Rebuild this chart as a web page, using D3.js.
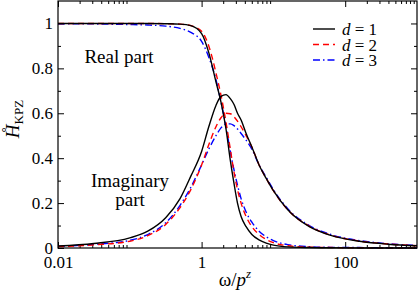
<!DOCTYPE html>
<html>
<head>
<meta charset="utf-8">
<script src="https://d3js.org/d3.v7.min.js"></script>
<style>
body { margin: 0; background: #fff; }
svg { display: block; }
svg text { font-family: "Liberation Serif", "Times New Roman", serif; fill: #000; }
.axis text { font-size: 17px; font-family: "Liberation Serif", "Times New Roman", serif; }
.axis path { display: none; }
.axis line { stroke: #000; stroke-width: 1; }
.curve { fill: none; stroke-width: 1.4; }
</style>
</head>
<body>
<div id="chart"></div>
<script>
var width = 419, height = 294;
var plotLeft = 58, plotRight = 417, plotTop = 1, plotBottom = 248;

// log10(omega / p^z) grid shared by all curves
var logW = [-2, -1.5, -1, -0.75, -0.5, -0.3, -0.15, 0, 0.1, 0.2, 0.27, 0.34, 0.4, 0.45, 0.5, 0.55, 0.62, 0.7, 0.8, 0.9, 1.0, 1.2, 1.5, 1.8, 2.2, 2.6, 3];

var realD1 = [1, 1, 1, 1, 0.999, 0.997, 0.99, 0.955, 0.87, 0.74, 0.65, 0.53, 0.39, 0.29, 0.2, 0.14, 0.095, 0.06, 0.036, 0.022, 0.013, 0.005, 0.002, 0.001, 0, 0, 0];
var realD2 = [1, 1, 1, 1, 0.999, 0.997, 0.99, 0.965, 0.9, 0.78, 0.68, 0.56, 0.44, 0.34, 0.26, 0.2, 0.14, 0.095, 0.06, 0.038, 0.024, 0.01, 0.004, 0.002, 0.001, 0, 0];
var realD3 = [0.999, 0.998, 0.995, 0.993, 0.988, 0.978, 0.96, 0.92, 0.85, 0.75, 0.65, 0.54, 0.43, 0.35, 0.28, 0.22, 0.16, 0.115, 0.075, 0.05, 0.033, 0.015, 0.006, 0.003, 0.002, 0.001, 0];

var imagD1 = [0.009, 0.02, 0.045, 0.075, 0.135, 0.22, 0.32, 0.43, 0.54, 0.635, 0.675, 0.683, 0.665, 0.64, 0.6, 0.57, 0.51, 0.45, 0.37, 0.31, 0.255, 0.17, 0.095, 0.056, 0.03, 0.017, 0.01];
var imagD2 = [0.006, 0.014, 0.03, 0.055, 0.105, 0.18, 0.26, 0.37, 0.46, 0.54, 0.58, 0.6, 0.598, 0.585, 0.565, 0.54, 0.5, 0.45, 0.37, 0.31, 0.255, 0.17, 0.097, 0.057, 0.031, 0.018, 0.01];
var imagD3 = [0.007, 0.016, 0.034, 0.06, 0.112, 0.19, 0.27, 0.37, 0.44, 0.5, 0.535, 0.552, 0.553, 0.545, 0.53, 0.51, 0.48, 0.44, 0.37, 0.315, 0.26, 0.175, 0.1, 0.06, 0.033, 0.019, 0.011];

var xMajor = [0.01, 1, 100];
var xMajorLabels = ["0.01", "1", "100"];
var yMajor = [0, 0.2, 0.4, 0.6, 0.8, 1];
var yMajorLabels = ["0", "0.2", "0.4", "0.6", "0.8", "1"];
var yMinor = [0.1, 0.3, 0.5, 0.7, 0.9];

var legendLabels = ["1", "2", "3"];
var colors = ["#000000", "#ff0000", "#0000ff"];
var dashes = ["none", "6,4", "7,3,1.5,3"];

var xMinor = [];
xMajor.forEach(function (m) {
	for (var k = 2; k <= 9; k++) xMinor.push(m * k);
});

var svg = d3.select("#chart").append("svg")
	.attr("width", width).attr("height", height);

var x = d3.scaleLog().domain([0.01, 1000]).range([plotLeft, plotRight]);
var y = d3.scaleLinear().domain([0, 1.1]).range([plotBottom, plotTop]);

// axes, ticks pointing inward
svg.append("g").attr("class", "axis").attr("transform", "translate(0," + plotBottom + ")")
	.call(d3.axisBottom(x).tickValues(xMajor).tickSize(-6).tickPadding(8)
		.tickFormat(function (d, i) { return xMajorLabels[i]; }));
svg.append("g").attr("class", "axis").attr("transform", "translate(0," + plotBottom + ")")
	.call(d3.axisBottom(x).tickValues(xMinor).tickSize(-3).tickFormat(""));
svg.append("g").attr("class", "axis").attr("transform", "translate(0," + plotTop + ")")
	.call(d3.axisTop(x).tickValues(xMajor).tickSize(-6).tickFormat(""));
svg.append("g").attr("class", "axis").attr("transform", "translate(0," + plotTop + ")")
	.call(d3.axisTop(x).tickValues(xMinor).tickSize(-3).tickFormat(""));

svg.append("g").attr("class", "axis").attr("transform", "translate(" + plotLeft + ",0)")
	.call(d3.axisLeft(y).tickValues(yMajor).tickSize(-6).tickPadding(5)
		.tickFormat(function (d, i) { return yMajorLabels[i]; }));
svg.append("g").attr("class", "axis").attr("transform", "translate(" + plotLeft + ",0)")
	.call(d3.axisLeft(y).tickValues(yMinor).tickSize(-3).tickFormat(""));
svg.append("g").attr("class", "axis").attr("transform", "translate(" + plotRight + ",0)")
	.call(d3.axisRight(y).tickValues(yMajor).tickSize(-6).tickFormat(""));
svg.append("g").attr("class", "axis").attr("transform", "translate(" + plotRight + ",0)")
	.call(d3.axisRight(y).tickValues(yMinor).tickSize(-3).tickFormat(""));

// curves
var line = d3.line()
	.x(function (d) { return x(Math.pow(10, d[0])); })
	.y(function (d) { return y(d[1]); })
	.curve(d3.curveMonotoneX);

var series = [realD1, realD2, realD3, imagD1, imagD2, imagD3];
// draw d=3, d=2 first so the solid black sits on top
[2, 1, 0].forEach(function (k) {
	[series[k], series[k + 3]].forEach(function (vals) {
		svg.append("path").attr("class", "curve")
			.attr("d", line(logW.map(function (l, i) { return [l, vals[i]]; })))
			.attr("stroke", colors[k])
			.attr("stroke-dasharray", dashes[k]);
	});
});

// frame
svg.append("rect").attr("x", plotLeft).attr("y", plotTop)
	.attr("width", plotRight - plotLeft).attr("height", plotBottom - plotTop)
	.attr("fill", "none").attr("stroke", "#000").attr("stroke-width", 1.2);

// annotations
svg.append("text").attr("x", 119).attr("y", 63).attr("text-anchor", "middle")
	.style("font-size", "19px").text("Real part");
svg.append("text").attr("x", 130).attr("y", 187).attr("text-anchor", "middle")
	.style("font-size", "19px").text("Imaginary");
svg.append("text").attr("x", 130).attr("y", 206).attr("text-anchor", "middle")
	.style("font-size", "19px").text("part");

// legend
legendLabels.forEach(function (lab, i) {
	var ly = 29 + i * 15.5;
	svg.append("line").attr("x1", 313).attr("x2", 335).attr("y1", ly).attr("y2", ly)
		.attr("stroke", colors[i]).attr("stroke-width", 1.4)
		.attr("stroke-dasharray", dashes[i]);
	var t = svg.append("text").attr("x", 342).attr("y", ly + 6).style("font-size", "17px");
	t.append("tspan").style("font-style", "italic").text("d");
	t.append("tspan").text(" = " + lab);
});

// axis titles
var xt = svg.append("text").attr("x", 235).attr("y", 286).attr("text-anchor", "middle")
	.style("font-size", "19px");
xt.append("tspan").text("ω/");
xt.append("tspan").style("font-style", "italic").text("p");
xt.append("tspan").style("font-style", "italic").style("font-size", "13px")
	.attr("dy", -8).text("z");

var yt = svg.append("text").attr("transform", "translate(19,119) rotate(-90)")
	.attr("text-anchor", "middle").style("font-size", "19px");
yt.append("tspan").style("font-style", "italic").text("H\u030A");
yt.append("tspan").style("font-size", "13px").attr("dy", 4).text("KPZ");
</script>
</body>
</html>
